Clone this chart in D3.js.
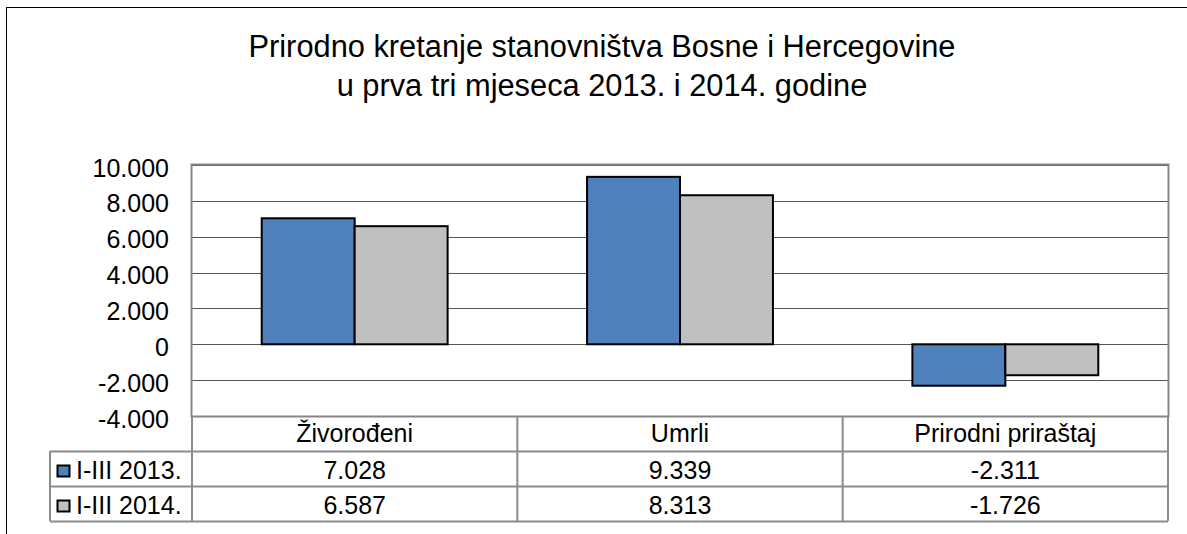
<!DOCTYPE html>
<html>
<head>
<meta charset="utf-8">
<script src="https://cdn.jsdelivr.net/npm/d3@7"></script>
<style>
  body { margin: 0; background: #fff; }
  svg { font-family: "Liberation Sans", Arial, sans-serif; }
</style>
</head>
<body>
<div id="chart"></div>
<script>
// data
var categories = ["Živorođeni", "Umrli", "Prirodni priraštaj"];
var seriesNames = ["I-III 2013.", "I-III 2014."];
var values2013 = [7028, 9339, -2311];
var values2014 = [6587, 8313, -1726];
var yTicks = [-4000, -2000, 0, 2000, 4000, 6000, 8000, 10000];
var titleLines = ["Prirodno kretanje stanovništva Bosne i Hercegovine", "u prva tri mjeseca 2013. i 2014. godine"];

var colors = ["#4F81BD", "#C0C0C0"];
var series = [values2013, values2014];

var W = 1187, H = 534;
var plot = {left: 192, right: 1168, top: 165, bottom: 416};
var rowH = 35;
var fs = "25px";

var loc = d3.formatLocale({decimal: ",", thousands: ".", grouping: [3], currency: ["", ""], minus: "-"});
var fmt = loc.format(",d");

var svg = d3.select("#chart").append("svg")
  .attr("width", W)
  .attr("height", H);

// outer chart border
svg.append("rect")
  .attr("x", 6.5).attr("y", 7.5)
  .attr("width", W + 10).attr("height", H + 10)
  .attr("fill", "none")
  .attr("stroke", "#000")
  .attr("stroke-width", 1);

// title
svg.append("g").selectAll("text")
  .data(titleLines)
  .enter().append("text")
    .attr("x", 602)
    .attr("y", (d, i) => 57 + i * 39)
    .attr("text-anchor", "middle")
    .attr("font-size", "30.8px")
    .attr("fill", "#000")
    .text(d => d);

var y = d3.scaleLinear()
  .domain([d3.min(yTicks), d3.max(yTicks)])
  .range([plot.bottom, plot.top]);

var x = d3.scaleBand()
  .domain(categories)
  .range([plot.left, plot.right])
  .paddingInner(0).paddingOuter(0);

var bw = x.bandwidth() / 3.5; // gap width 150%
var x1 = d3.scaleBand()
  .domain(d3.range(seriesNames.length))
  .range([x.bandwidth() / 2 - bw, x.bandwidth() / 2 + bw]);

// gridlines
svg.append("g")
  .selectAll("line")
  .data(yTicks)
  .enter().append("line")
    .attr("x1", plot.left).attr("x2", plot.right)
    .attr("y1", d => Math.round(y(d)) + 0.5)
    .attr("y2", d => Math.round(y(d)) + 0.5)
    .attr("stroke", "#555")
    .attr("stroke-width", 1);

// y axis labels
var yAxis = svg.append("g")
  .attr("transform", "translate(" + (plot.left - 23) + ",0)")
  .call(d3.axisLeft(y).tickValues(yTicks).tickFormat(fmt).tickSize(0).tickPadding(0));
yAxis.select(".domain").remove();
yAxis.selectAll("text")
  .attr("dy", "11px")
  .attr("font-size", fs)
  .attr("font-family", "Liberation Sans, Arial, sans-serif")
  .attr("fill", "#000");

// bars
series.forEach(function(vals, si) {
  svg.append("g").selectAll("rect")
    .data(vals)
    .enter().append("rect")
      .attr("x", (d, i) => x(categories[i]) + x1(si))
      .attr("width", x1.bandwidth())
      .attr("y", d => y(Math.max(0, d)))
      .attr("height", d => Math.abs(y(d) - y(0)))
      .attr("fill", colors[si])
      .attr("stroke", "#000")
      .attr("stroke-width", 2);
});

// plot area border
svg.append("rect")
  .attr("x", plot.left - 0.5).attr("y", plot.top - 0.5)
  .attr("width", plot.right - plot.left + 1)
  .attr("height", plot.bottom - plot.top + 1)
  .attr("fill", "none")
  .attr("stroke", "#868686")
  .attr("stroke-width", 2);

// data table
var tb = svg.append("g").attr("class", "table");
var tableBottom = plot.bottom + rowH * 3;
var lineCol = "#8c8c8c";

// horizontal lines
[plot.bottom + rowH, plot.bottom + rowH * 2, tableBottom].forEach(function(yy) {
  tb.append("line")
    .attr("x1", 50).attr("x2", plot.right)
    .attr("y1", yy + 0.5).attr("y2", yy + 0.5)
    .attr("stroke", lineCol).attr("stroke-width", 2);
});
// vertical lines
categories.forEach(function(c) {
  tb.append("line")
    .attr("x1", x(c)).attr("x2", x(c))
    .attr("y1", plot.bottom).attr("y2", tableBottom)
    .attr("stroke", lineCol).attr("stroke-width", 2);
});
tb.append("line")
  .attr("x1", plot.right).attr("x2", plot.right)
  .attr("y1", plot.bottom).attr("y2", tableBottom)
  .attr("stroke", lineCol).attr("stroke-width", 2);
tb.append("line")
  .attr("x1", 50).attr("x2", 50)
  .attr("y1", plot.bottom + rowH).attr("y2", tableBottom)
  .attr("stroke", lineCol).attr("stroke-width", 2);

// category headers
tb.selectAll(".cat")
  .data(categories)
  .enter().append("text")
    .attr("class", "cat")
    .attr("x", d => x(d) + x.bandwidth() / 2)
    .attr("y", plot.bottom + 26)
    .attr("text-anchor", "middle")
    .attr("font-size", fs)
    .text(d => d);

// series rows
series.forEach(function(vals, si) {
  var ry = plot.bottom + rowH * (si + 1);
  tb.append("rect")
    .attr("x", 57.5).attr("y", ry + 14.5)
    .attr("width", 12).attr("height", 11)
    .attr("fill", colors[si])
    .attr("stroke", "#000").attr("stroke-width", 2);
  tb.append("text")
    .attr("x", 76).attr("y", ry + 28)
    .attr("font-size", fs)
    .text(seriesNames[si]);
  tb.selectAll(".v" + si)
    .data(vals)
    .enter().append("text")
      .attr("x", (d, i) => x(categories[i]) + x.bandwidth() / 2)
      .attr("y", ry + 28)
      .attr("text-anchor", "middle")
      .attr("font-size", fs)
      .text(d => fmt(d));
});
</script>
</body>
</html>
